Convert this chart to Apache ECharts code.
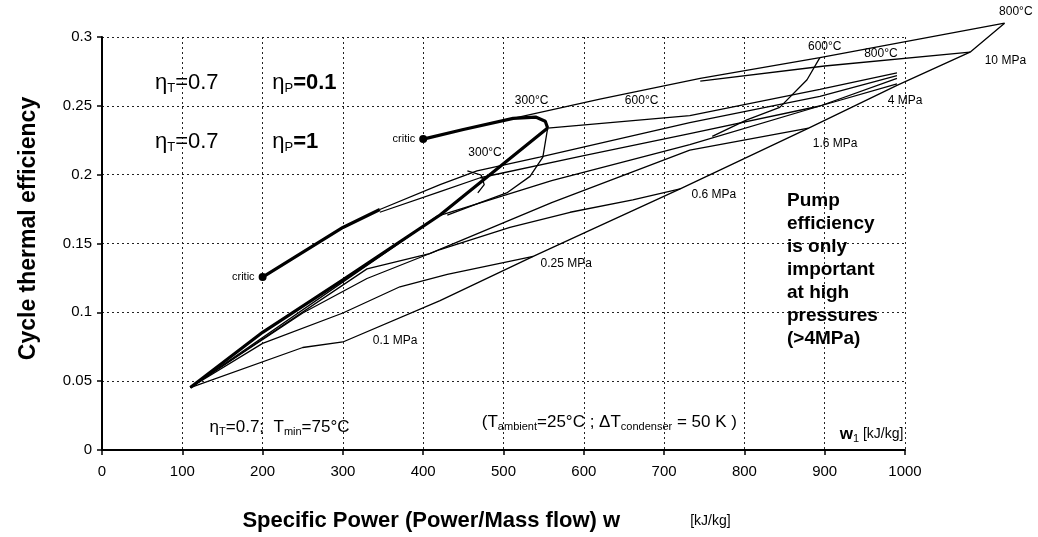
<!DOCTYPE html>
<html>
<head>
<meta charset="utf-8">
<script src="https://cdn.jsdelivr.net/npm/echarts@6/dist/echarts.min.js"></script>
<style>
  html, body { margin: 0; padding: 0; background: #fff; }
  #chart { width: 1038px; height: 537px; }
</style>
</head>
<body>
<div id="chart"></div>
<script>
// axis ticks
const xTicks = [0, 100, 200, 300, 400, 500, 600, 700, 800, 900, 1000];
const yTicks = [0, 0.05, 0.1, 0.15, 0.2, 0.25, 0.3];

// [w, efficiency]
const critHigh = [[400, 0.226], [450, 0.233], [512, 0.241], [540, 0.242], [552, 0.239], [555, 0.234]];
const thickA = [[110, 0.046], [200, 0.086], [300, 0.124], [421, 0.171], [555, 0.234]];
const critLow = [[200, 0.126], [300, 0.162], [346, 0.175]];
const p22 = [[512, 0.241], [620, 0.255], [745, 0.27], [894, 0.285], [1124, 0.31]];
const p10 = [[745, 0.268], [900, 0.279], [1081, 0.289]];
const t800 = [[300, 0.079], [421, 0.109], [537, 0.141], [604, 0.159], [720, 0.19], [880, 0.234], [990, 0.265], [1081, 0.289], [1124, 0.31]];
const p01 = [[110, 0.046], [250, 0.075], [300, 0.079]];
const p025 = [[110, 0.046], [200, 0.078], [300, 0.1], [371, 0.119], [430, 0.128], [537, 0.141]];
const p06 = [[110, 0.046], [250, 0.1], [330, 0.125], [421, 0.146], [508, 0.162], [583, 0.173], [661, 0.182], [720, 0.19]];
const p16 = [[110, 0.046], [330, 0.132], [408, 0.143], [560, 0.18], [732, 0.218], [880, 0.234]];
const p4 = [[110, 0.046], [371, 0.151], [417, 0.17], [560, 0.196], [732, 0.222], [894, 0.25], [990, 0.266]];
const critLowA = [[346, 0.175], [421, 0.193], [467, 0.203], [545, 0.213], [732, 0.238], [894, 0.257], [990, 0.272]];
const critLowB = [[346, 0.173], [421, 0.188], [471, 0.198], [600, 0.214], [732, 0.23], [894, 0.25], [990, 0.27]];
const junctionRight = [[555, 0.234], [732, 0.243], [894, 0.262], [990, 0.274]];
const loop300 = [[555, 0.234], [549, 0.213], [533, 0.199], [504, 0.187], [471, 0.18], [430, 0.171]];
const smallLoop = [[455, 0.203], [472, 0.2], [476, 0.193], [468, 0.187]];
const t600 = [[894, 0.285], [878, 0.269], [844, 0.249], [803, 0.24], [760, 0.228]];
const critPoints = [[400, 0.226], [200, 0.126]];

const thinLines = [p22, p10, t800, p01, p025, p06, p16, p4, critLowA, critLowB, junctionRight, loop300, smallLoop, t600];
const thickLines = [critHigh, thickA, critLow];

const chart = echarts.init(document.getElementById("chart"));

const INK = "#000";
const FONT = "Liberation Sans";
const txt = (x, y, text, extra) => ({
  value: [x, y],
  label: Object.assign({ show: true, formatter: text, position: "inside", color: INK }, extra || {}),
});

const rich = {
  b: { fontFamily: FONT, fontSize: 22, color: INK },
  bb: { fontFamily: FONT, fontSize: 22, fontWeight: "bold", color: INK },
  s: { fontFamily: FONT, fontSize: 13, padding: [12, 0, 0, 0], color: INK },
  m: { fontFamily: FONT, fontSize: 17, color: INK },
  ms: { fontFamily: FONT, fontSize: 11, padding: [9, 0, 0, 0], color: INK },
  w: { fontFamily: FONT, fontSize: 17, fontWeight: "bold", color: INK },
  u: { fontFamily: FONT, fontSize: 14, color: INK },
};

const labels = [
  txt(66, 0.267, "{b|η}{s|T}{b|=0.7}", { align: "left", rich }),
  txt(212, 0.267, "{b|η}{s|P}{bb|=0.1}", { align: "left", rich }),
  txt(66, 0.224, "{b|η}{s|T}{b|=0.7}", { align: "left", rich }),
  txt(212, 0.224, "{b|η}{s|P}{bb|=1}", { align: "left", rich }),
  txt(390, 0.226, "critic", { align: "right", fontSize: 11 }),
  txt(190, 0.126, "critic", { align: "right", fontSize: 11 }),
  txt(535, 0.254, "300°C", { fontSize: 12 }),
  txt(477, 0.216, "300°C", { fontSize: 12 }),
  txt(672, 0.254, "600°C", { fontSize: 12 }),
  txt(900, 0.293, "600°C", { fontSize: 12 }),
  txt(970, 0.288, "800°C", { fontSize: 12 }),
  txt(1138, 0.318, "800°C", { fontSize: 12 }),
  txt(1125, 0.283, "10 MPa", { fontSize: 12 }),
  txt(1000, 0.254, "4 MPa", { fontSize: 12 }),
  txt(913, 0.223, "1.6 MPa", { fontSize: 12 }),
  txt(762, 0.186, "0.6 MPa", { fontSize: 12 }),
  txt(578, 0.136, "0.25 MPa", { fontSize: 12 }),
  txt(365, 0.080, "0.1 MPa", { fontSize: 12 }),
  txt(853, 0.19, "Pump\nefficiency\nis only\nimportant\nat high\npressures\n(>4MPa)", {
    align: "left", verticalAlign: "top", fontSize: 19, fontWeight: "bold", lineHeight: 23, fontFamily: FONT,
  }),
  txt(134, 0.017, "{m|η}{ms|T}{m|=0.7;  T}{ms|min}{m|=75°C}", { align: "left", rich }),
  txt(473, 0.021, "{m|(T}{ms|ambient}{m|=25°C ; ΔT}{ms|condenser}{m| = 50 K )}", { align: "left", rich }),
  txt(998, 0.012, "{w|w}{ms|1}{u| [kJ/kg]}", { align: "right", rich }),
];

// grid 1 shares the scale of grid 0 but reaches further right and up, so lines past w=1000 still show
const series = [];
const onWide = { xAxisIndex: 1, yAxisIndex: 1 };
thinLines.forEach((d) => {
  series.push(Object.assign({ type: "line", data: d, symbol: "none", lineStyle: { color: INK, width: 1.3 }, z: 3 }, onWide));
});
thickLines.forEach((d) => {
  series.push(Object.assign({ type: "line", data: d, symbol: "none", lineStyle: { color: INK, width: 3.2 }, z: 4 }, onWide));
});
series.push(Object.assign({ type: "scatter", data: critPoints, symbolSize: 8, itemStyle: { color: INK, opacity: 1 }, z: 5 }, onWide));
series.push(Object.assign({ type: "scatter", data: labels, symbolSize: 0, itemStyle: { opacity: 1 }, z: 6, label: { fontFamily: FONT } }, onWide));

const xPxPerUnit = 803 / 1000;
const yPxPerUnit = 414 / 0.3;
const wideXMax = 1160;
const wideYMax = 0.325;

const option = {
  animation: false,
  grid: [
    { left: 102, right: 133, top: 37, bottom: 86 },
    { left: 102, width: wideXMax * xPxPerUnit, top: 37 - (wideYMax - 0.3) * yPxPerUnit, bottom: 86 },
  ],
  xAxis: [
    {
      type: "value", min: xTicks[0], max: xTicks[xTicks.length - 1], interval: 100,
      name: "{t|Specific Power (Power/Mass flow) w}{u|                  [kJ/kg]}",
      nameLocation: "middle", nameGap: 60,
      nameTextStyle: { padding: [0, 34, 0, 0], rich: {
        t: { fontFamily: FONT, fontSize: 22, fontWeight: "bold", color: INK },
        u: { fontFamily: FONT, fontSize: 14, color: INK },
      } },
      axisLine: { lineStyle: { color: INK, width: 2 } },
      axisTick: { length: 5, lineStyle: { color: INK, width: 1.5 } },
      axisLabel: { fontFamily: FONT, fontSize: 15, color: INK, margin: 14, formatter: (v) => String(v) },
      splitLine: { show: true, lineStyle: { type: [2, 3], color: "#222", width: 1 } },
    },
    { gridIndex: 1, type: "value", min: 0, max: wideXMax, show: false, splitLine: { show: false } },
  ],
  yAxis: [
    {
      type: "value", min: yTicks[0], max: yTicks[yTicks.length - 1], interval: 0.05,
      name: "Cycle thermal efficiency",
      nameLocation: "middle", nameGap: 62,
      nameTextStyle: { fontFamily: FONT, fontSize: 23, fontWeight: "bold", color: INK, padding: [0, 0, 0, 30] },
      axisLine: { show: true, lineStyle: { color: INK, width: 2 } },
      axisTick: { show: true, length: 5, lineStyle: { color: INK, width: 1.5 } },
      axisLabel: { fontFamily: FONT, fontSize: 15, color: INK, margin: 10 },
      splitLine: { show: true, lineStyle: { type: [2, 3], color: "#222", width: 1 } },
    },
    { gridIndex: 1, type: "value", min: 0, max: wideYMax, show: false, splitLine: { show: false } },
  ],
  series: series,
};
chart.setOption(option);
</script>
</body>
</html>
